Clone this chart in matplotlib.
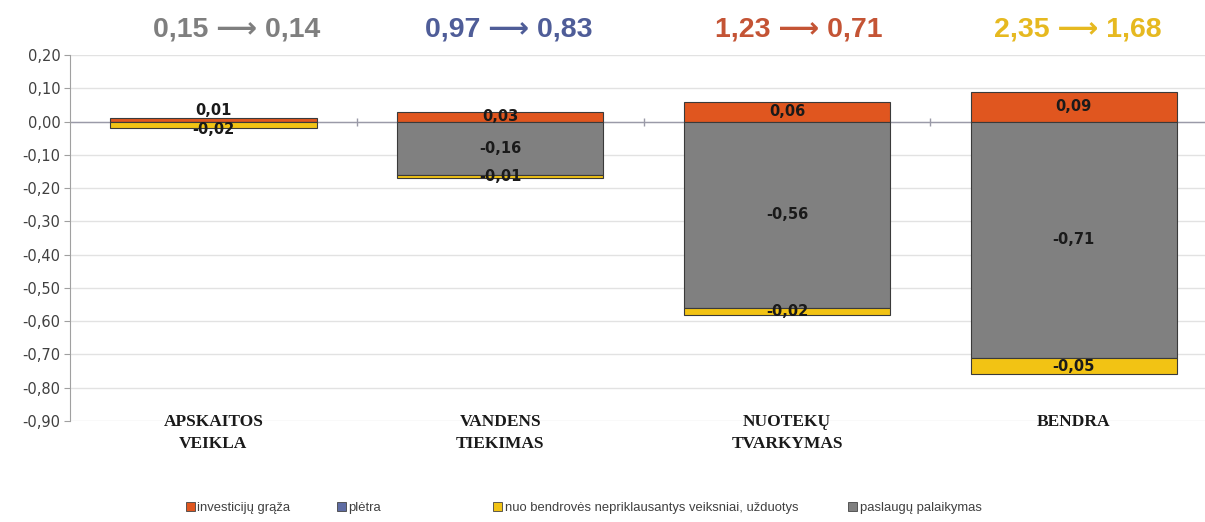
import numpy as np
import matplotlib.pyplot as plt
from matplotlib.patches import Patch
from matplotlib.transforms import blended_transform_factory

# data
categories = ['APSKAITOS\nVEIKLA', 'VANDENS\nTIEKIMAS', 'NUOTEKŲ\nTVARKYMAS', 'BENDRA']
investiciju_graza = [0.01, 0.03, 0.06, 0.09]
pletra = [0.0, 0.0, 0.0, 0.0]
nuo_bendroves = [-0.02, -0.01, -0.02, -0.05]
paslaugu_palaikymas = [0.0, -0.16, -0.56, -0.71]
rate_before = ['0,15', '0,97', '1,23', '2,35']
rate_after = ['0,14', '0,83', '0,71', '1,68']
yticks = np.round(np.arange(-0.9, 0.21, 0.1), 2)

c_inv = '#E0561F'
c_plet = '#5E6CA3'
c_nuo = '#F2C314'
c_pasl = '#808080'
title_colors = ['#7F7F7F', '#4F5D98', '#C45435', '#E6B920']
title_shift = [0.08, 0.03, 0.04, 0.015]

def fmt(v):
    if abs(v) < 1e-9:
        v = 0.0
    return ('%.2f' % v).replace('.', ',')

fig = plt.figure(figsize=(12.05, 5.22), dpi=100)
ax = fig.add_axes([0.0581, 0.1935, 0.952, 0.701])

x = np.arange(len(categories))
w = 0.72
inv = np.array(investiciju_graza)
pas = np.array(paslaugu_palaikymas)
nuo = np.array(nuo_bendroves)

ax.bar(x, inv, w, color=c_inv, edgecolor='#3a3a3a', linewidth=0.8, zorder=3)
ax.bar(x, pas, w, color=c_pasl, edgecolor='#3a3a3a', linewidth=0.8, zorder=3)
ax.bar(x, nuo, w, bottom=pas, color=c_nuo, edgecolor='#3a3a3a', linewidth=0.8, zorder=3)

lab = dict(ha='center', fontsize=10.5, fontweight='bold', color='#1a1a1a', zorder=5)
for i in range(len(x)):
    small = (inv[i] - pas[i] - nuo[i]) < 0.05
    if small:
        # tiny bar: labels pushed apart like Excel does
        ax.text(x[i], inv[i] + 0.002, fmt(inv[i]), va='bottom', **lab)
        ax.text(x[i], -0.001, fmt(nuo[i]), va='top', **lab)
        continue
    ax.text(x[i], inv[i] / 2, fmt(inv[i]), va='center', **lab)
    ax.text(x[i], pas[i] / 2, fmt(pas[i]), va='center', **lab)
    ax.text(x[i], pas[i] + nuo[i] / 2, fmt(nuo[i]), va='center', **lab)

ax.set_ylim(-0.9, 0.2)
ax.set_xlim(-0.5, len(categories) - 0.5)
ax.set_yticks(yticks)
ax.set_yticklabels([fmt(v) for v in yticks], fontsize=10.5, color='#404040')
ax.tick_params(axis='y', length=4, color='#a0a0a0', pad=3)
ax.set_xticks([])
ax.grid(axis='y', color='#e2e2e2', linewidth=1.0, zorder=0)
for s in ['top', 'right', 'bottom']:
    ax.spines[s].set_visible(False)
ax.spines['left'].set_color('#a0a0a0')

# zero category axis with small ticks between categories
ax.axhline(0, color='#9a9aa8', linewidth=1.0, zorder=2)
ax.vlines(x[:-1] + 0.5, -0.012, 0.012, color='#9a9aa8', linewidth=1.0, zorder=2)

# category labels
for i, c in enumerate(categories):
    ax.text(x[i], -0.878, c, ha='center', va='top', fontsize=12.5,
            family='Liberation Serif', fontweight='bold', color='#1a1a1a',
            linespacing=1.55, clip_on=False)

# rate change above each group
tr = blended_transform_factory(ax.transData, ax.transAxes)
for i in range(len(x)):
    ax.text(x[i] + title_shift[i], 1.071, rate_before[i] + ' \u27F6 ' + rate_after[i],
            transform=tr, ha='center', va='center', fontsize=20.5,
            fontweight='bold', color=title_colors[i],
            family=['Liberation Sans', 'DejaVu Sans'])

# legend entries placed individually
names = ['investicijų grąža', 'plėtra',
         'nuo bendrovės nepriklausantys veiksniai, užduotys', 'paslaugų palaikymas']
cols = [c_inv, c_plet, c_nuo, c_pasl]
xpos = [0.154, 0.2795, 0.409, 0.704]
for n, c, xp in zip(names, cols, xpos):
    h = Patch(facecolor=c, edgecolor='#444444', linewidth=0.6)
    lg = fig.legend([h], [n], loc='center left', bbox_to_anchor=(xp, 0.027),
                    frameon=False, borderpad=0, borderaxespad=0,
                    handlelength=0.7, handleheight=0.7, handletextpad=0.2,
                    prop={'family': 'Liberation Sans', 'size': 9.4})
    for t in lg.get_texts():
        t.set_color('#404040')

fig.savefig('out.png', dpi=100)
